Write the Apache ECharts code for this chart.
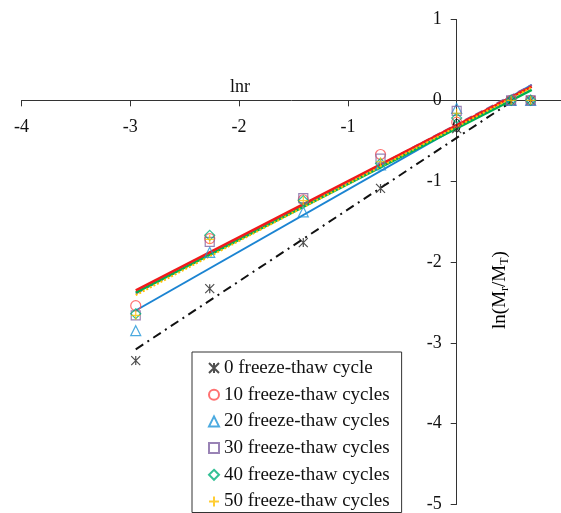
<!DOCTYPE html>
<html>
<head>
<meta charset="utf-8">
<script src="https://cdn.jsdelivr.net/npm/echarts@6/dist/echarts.min.js"></script>
<style>
html,body{margin:0;padding:0;background:#fff;}
#c{width:561px;height:513px;}
</style>
</head>
<body>
<div id="c"></div>
<script>
// lnr values of the measured points
var lnr = [-2.95, -2.27, -1.41, -0.70, 0, 0.50, 0.68];
// ln(Mr/MT) per freeze-thaw cycle count
var y0  = [-3.22, -2.33, -1.76, -1.09, -0.35, -0.01, 0];
var y10 = [-2.54, -1.71, -1.23, -0.67, -0.27, 0, 0];
var y20 = [-2.85, -1.88, -1.38, -0.80, -0.10, 0, 0];
var y30 = [-2.66, -1.75, -1.21, -0.72, -0.13, 0, 0];
var y40 = [-2.64, -1.67, -1.24, -0.78, -0.22, 0, 0];
var y50 = [-2.66, -1.72, -1.24, -0.76, -0.16, 0, 0];
// fitted line end points
var fitX0 = [-2.95, 0.50];
var fit0  = [-3.08, -0.02];
var fitX  = [-2.95, 0.69];
var fit10 = [-2.35, 0.17];
var fit20 = [-2.60, 0.19];
var fit30 = [-2.39, 0.19];
var fit40 = [-2.38, 0.13];
var fit50 = [-2.41, 0.16];
var seriesNames = ['0 freeze-thaw cycle','10 freeze-thaw cycles','20 freeze-thaw cycles','30 freeze-thaw cycles','40 freeze-thaw cycles','50 freeze-thaw cycles'];
var xTicks = [-4, -3, -2, -1, 0, 1];
var yTicks = [1, 0, -1, -2, -3, -4, -5];

var FONT = 'Liberation Serif';
function pairs(xs, ys){ return xs.map(function(x,i){ return [x, ys[i]]; }); }

var asterisk = 'path://M0,0 L10,10 M10,0 L0,10 M5,0 L5,10';
var plus = 'path://M5,0 L5,10 M0,5 L10,5';

var pointDefs = [
  {data:y0,  symbol:asterisk, color:'#222222', size:9},
  {data:y10, symbol:'circle', color:'#ff4d4d', size:10},
  {data:y20, symbol:'triangle', color:'#1f95d8', size:10},
  {data:y30, symbol:'rect', color:'#8064a2', size:9},
  {data:y40, symbol:'diamond', color:'#00b07a', size:10},
  {data:y50, symbol:plus, color:'#ffc000', size:9}
];

var fitDefs = [
  {x:fitX0, y:fit0,  color:'#111111', width:2,   type:[9,5,2,5], z:3},
  {x:fitX,  y:fit20, color:'#1b84d2', width:2,   type:'solid', z:3},
  {x:fitX,  y:fit30, color:'#8064a2', width:2,   type:'dashed', z:3},
  {x:fitX,  y:fit40, color:'#00b050', width:2.5, type:'solid', z:4},
  {x:fitX,  y:fit50, color:'#ffc000', width:2,   type:[2,2], z:5},
  {x:fitX,  y:fit10, color:'#f01a1a', width:2.5, type:'solid', z:4}
];

var series = [];
fitDefs.forEach(function(f, i){
  series.push({
    name:'fit'+i, type:'line', data:pairs(f.x, f.y), symbol:'none', silent:true,
    lineStyle:{color:f.color, width:f.width, type:f.type}, z:f.z, animation:false
  });
});
pointDefs.forEach(function(p, i){
  series.push({
    name:seriesNames[i], type:'scatter', data:pairs(lnr, p.data),
    symbol:p.symbol, symbolSize:p.size, symbolKeepAspect:true,
    itemStyle:{color:'rgba(0,0,0,0)', borderColor:p.color, borderWidth:1.2},
    z:10, animation:false
  });
});

var G = {left:21.5, top:19.5, width:544, height:485};
// axis crossing positions: y = 0 lies 1/6 of the way down; x = 0 lies 4/5 across
var xAxisOffset = -(G.height * (0 - yTicks[yTicks.length-1]) / (yTicks[0] - yTicks[yTicks.length-1]));
var yAxisOffset = -(G.width * (0 - xTicks[0]) / (xTicks[xTicks.length-1] - xTicks[0]));

var chart = echarts.init(document.getElementById('c'), null, {renderer:'canvas'});
chart.setOption({
  backgroundColor:'#ffffff',
  animation:false,
  grid:{left:G.left, top:G.top, width:G.width, height:G.height, containLabel:false, outerBoundsMode:'none'},
  xAxis:{
    type:'value', min:xTicks[0], max:xTicks[xTicks.length-1], interval:1,
    position:'bottom', offset:xAxisOffset,
    axisLine:{onZero:false, lineStyle:{color:'#333', width:1}},
    axisTick:{show:true, length:6, lineStyle:{color:'#333'}},
    axisLabel:{fontFamily:FONT, fontSize:18, color:'#111', margin:18, showMinLabel:true},
    splitLine:{show:false}
  },
  yAxis:{
    type:'value', min:yTicks[yTicks.length-1], max:yTicks[0], interval:1,
    position:'left', offset:yAxisOffset,
    axisLine:{onZero:false, lineStyle:{color:'#333', width:1}},
    axisTick:{show:true, length:6, lineStyle:{color:'#333'}},
    axisLabel:{fontFamily:FONT, fontSize:18, color:'#111', margin:15, showMinLabel:true, showMaxLabel:true},
    splitLine:{show:false}
  },
  legend:{
    orient:'vertical', left:192, top:352,
    data:seriesNames,
    itemWidth:10, itemHeight:10, itemGap:6.7,
    padding:[6,12,1,16],
    borderColor:'#333', borderWidth:1,
    backgroundColor:'#fff',
    textStyle:{fontFamily:FONT, fontSize:19, color:'#111', lineHeight:20},
    selectedMode:false
  },
  graphic:[
    {type:'text', left:230, top:78, style:{text:'lnr', font:'18px "Liberation Serif"', fill:'#111'}},
    {type:'text', x:500, y:290, rotation:Math.PI/2, originX:0, originY:0,
     style:{
       text:'{a|ln(M}{s|r}{a|/M}{s|T}{a|)}', align:'center', verticalAlign:'middle',
       rich:{
         a:{fontFamily:FONT, fontSize:19, color:'#111', lineHeight:22},
         s:{fontFamily:FONT, fontSize:12, color:'#8a2a2a', lineHeight:14, verticalAlign:'bottom'}
       }
     }}
  ],
  series:series
});
</script>
</body>
</html>
